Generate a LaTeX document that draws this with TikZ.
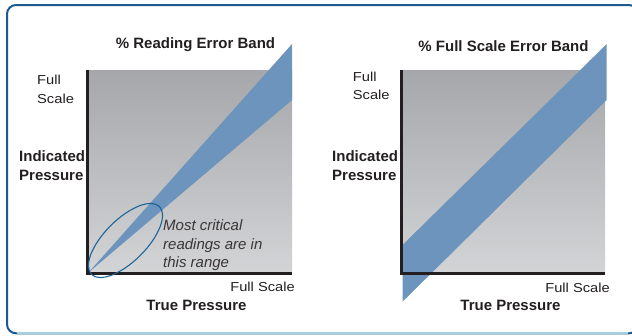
\documentclass[tikz,border=0pt]{standalone}
\usepackage{fontspec}
\setmainfont{Liberation Sans}
\newfontfamily\regf[FakeStretch=1.13]{Liberation Sans}
\definecolor{frameblue}{HTML}{1B5A8E}
\definecolor{framelight}{HTML}{A5D0DE}
\definecolor{bandblue}{HTML}{6D94BD}
\definecolor{graytop}{HTML}{A6A7AA}
\definecolor{graybot}{HTML}{D3D4D6}
\definecolor{axisc}{HTML}{231F20}
\definecolor{ellc}{HTML}{1C6497}
\definecolor{txt}{HTML}{231F20}
\begin{document}
\begin{tikzpicture}[x=1pt,y=-1pt,
  lbl/.style={inner sep=0pt, font=\regf\fontsize{13}{15}\selectfont, text=txt},
  boldlbl/.style={inner sep=0pt, font=\bfseries\fontsize{15}{18}\selectfont, text=txt},
  italbl/.style={inner sep=0pt, font=\itshape\fontsize{15}{18}\selectfont, text=txt!90},
  axisline/.style={draw=axisc, line width=2.7pt, line join=miter},
  bandfill/.style={fill=bandblue},
  plotbg/.style={top color=graytop, bottom color=graybot}]
\useasboundingbox (0,0) rectangle (632,335);
\clip (0,0) rectangle (632,335);
% frame
\draw[frameblue, line width=2pt, rounded corners=9pt] (7,5) rectangle (638,333.3);
\draw[framelight, line width=2pt] (17,333.3) -- (628,333.3);

% ---------- left chart ----------
\shade[plotbg] (87,70) rectangle (292,273);
\fill[bandfill] (88.5,272.5) -- (292,44) -- (292,100) -- cycle;
\draw[axisline] (87.3,70) -- (87.3,273.7) -- (292,273.7);
\draw[ellc, line width=1.1pt, rotate around={45:(125.5,240.5)}] (125.5,240.5) ellipse [x radius=48pt, y radius=21pt];

\node[boldlbl, anchor=base] (t1) at (195.5,48.5) {\% Reading Error Band};
\node[lbl, anchor=base west] (fs1a) at (37,84) {Full};
\node[lbl, anchor=base west] (fs1b) at (37,103) {Scale};
\node[boldlbl, anchor=base west] (ip1a) at (19,161.7) {Indicated};
\node[boldlbl, anchor=base west] (ip1b) at (19,180.5) {Pressure};
\node[italbl, anchor=base west] (mc1) at (163,230.7) {Most critical};
\node[italbl, anchor=base west] (mc2) at (163,249.3) {readings are in};
\node[italbl, anchor=base west] (mc3) at (163,267) {this range};
\node[lbl, anchor=base east] (fx1) at (295,291.7) {Full Scale};
\node[boldlbl, anchor=base] (tp1) at (196.5,310) {True Pressure};

% ---------- right chart ----------
\shade[plotbg] (401,70) rectangle (605,273);
\fill[bandfill] (402.5,245) -- (606.7,44) -- (606.7,100) -- (402.5,301.7) -- cycle;
\draw[axisline] (401.5,70) -- (401.5,273.7) -- (605,273.7);

\node[boldlbl, anchor=base] (t2) at (503.5,51) {\% Full Scale Error Band};
\node[lbl, anchor=base west] (fs2a) at (352.7,81) {Full};
\node[lbl, anchor=base west] (fs2b) at (352.7,99) {Scale};
\node[boldlbl, anchor=base west] (ip2a) at (332,161.7) {Indicated};
\node[boldlbl, anchor=base west] (ip2b) at (332,180) {Pressure};
\node[lbl, anchor=base east] (fx2) at (610,292.3) {Full Scale};
\node[boldlbl, anchor=base] (tp2) at (510.5,310.5) {True Pressure};
\end{tikzpicture}
\end{document}
